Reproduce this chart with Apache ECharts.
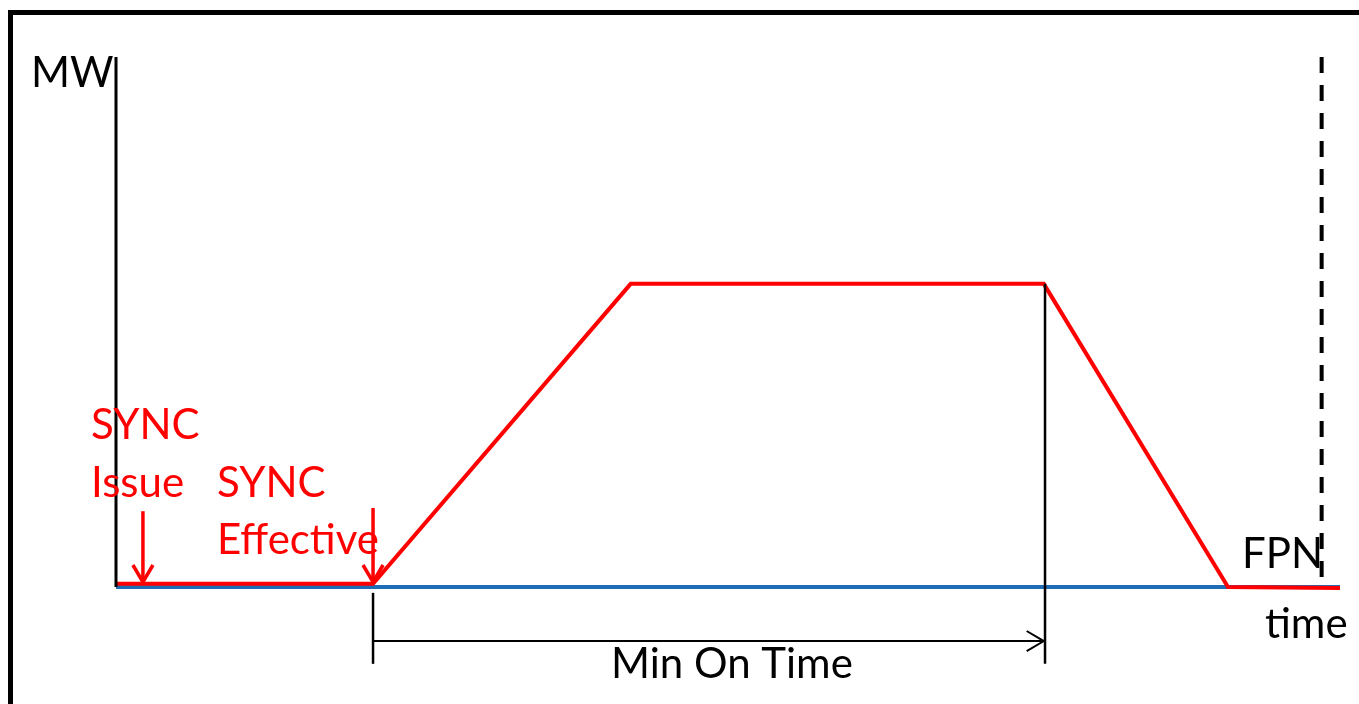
<!DOCTYPE html>
<html><head><meta charset="utf-8">
<script src="https://cdn.jsdelivr.net/npm/echarts@6/dist/echarts.min.js"></script>
<style>html,body{margin:0;padding:0;background:#fff}#c{width:1359px;height:704px}</style>
</head><body><div id="c"></div>
<script>
// ---- data (time axis 0..100, MW axis 0..100) ----
const baselineTime = [0, 100];
const baselineMW = [0, 0];
const profileTime = [0, 21, 42.05, 75.8, 90.85, 100];
const profileMW = [0.6, 0.6, 57.2, 57.2, 0, -0.2];
const syncIssueTime = 2.2;
const syncEffectiveTime = 21;
const minOnEndTime = 75.9;
const fpnLimitTime = 98.5;
const axisTopMW = 100;
const arrowTopIssue = 14.3;
const arrowTopEffective = 14.9;
const arrowTipMW = 0.95;
const bracketTopMW = -1.1;
const bracketBottomMW = -14.5;
const bracketLineMW = -10.2;
const plateauMW = 57.2;
const labels = ['MW', 'SYNC', 'Issue', 'SYNC', 'Effective', 'FPN', 'time', 'Min On Time'];

const RED = '#ff0000', BLACK = '#000000', BLUE = '#1f6db5';
function line(data, color, width, extra) {
  return Object.assign({
    type: 'line', data: data, showSymbol: false, symbol: 'none', silent: true,
    clip: false, animation: false,
    lineStyle: { color: color, width: width, cap: 'butt', join: 'miter' }
  }, extra || {});
}
function downArrow(t, top) {
  return [
    line([[t, top], [t, arrowTipMW]], RED, 3.5, { z: 5 }),
    line([[t - 0.82, arrowTipMW + 3.2], [t, arrowTipMW], [t + 0.82, arrowTipMW + 3.2]], RED, 3.5, { z: 5 })
  ];
}

const series = [
  line(baselineTime.map((t, i) => [t, baselineMW[i]]), BLUE, 4, { z: 2 }),
  line(profileTime.map((t, i) => [t, profileMW[i]]), RED, 4, { z: 3 }),
  line([[0, 0], [0, axisTopMW]], BLACK, 3, { z: 4 }),
  line([[fpnLimitTime, axisTopMW], [fpnLimitTime, 0]], BLACK, 4,
    { lineStyle: { color: BLACK, width: 4, type: [16, 12], cap: 'butt' }, z: 4 }),
  line([[minOnEndTime, plateauMW], [minOnEndTime, bracketBottomMW]], BLACK, 2.5, { z: 4 }),
  line([[syncEffectiveTime, bracketTopMW], [syncEffectiveTime, bracketBottomMW]], BLACK, 2.5, { z: 4 }),
  line([[syncEffectiveTime, bracketLineMW], [minOnEndTime - 0.1, bracketLineMW]], BLACK, 2, { z: 4 }),
  line([[minOnEndTime - 1.5, bracketLineMW + 1.9], [minOnEndTime - 0.1, bracketLineMW], [minOnEndTime - 1.5, bracketLineMW - 1.9]], BLACK, 2, { z: 4 })
].concat(downArrow(syncIssueTime, arrowTopIssue), downArrow(syncEffectiveTime, arrowTopEffective));

const FONT = '42px Lato';
function txt(s, x, y, color) {
  return { type: 'text', x: x, y: y, silent: true, z: 10,
    style: { text: s, font: FONT, fill: color, textAlign: 'left', align: 'left',
      textVerticalAlign: 'middle', verticalAlign: 'middle' } };
}

const chart = echarts.init(document.getElementById('c'), null, { renderer: 'canvas' });
chart.setOption({
  animation: false,
  backgroundColor: '#ffffff',
  grid: { left: 116, right: 19, top: 57, bottom: 11 },
  xAxis: { type: 'value', min: 0, max: 100, show: false },
  yAxis: { type: 'value', min: -20, max: 100, show: false },
  series: series,
  graphic: [
    { type: 'rect', silent: true, z: 1, shape: { x: 10.5, y: 12.5, width: 2000, height: 2000 },
      style: { fill: 'none', stroke: BLACK, lineWidth: 5 } },
    txt(labels[0], 31, 73, BLACK),
    txt(labels[1], 91, 425, RED),
    txt(labels[2], 91, 483, RED),
    txt(labels[3], 217, 483, RED),
    txt(labels[4], 217, 540, RED),
    txt(labels[5], 1242, 554, BLACK),
    txt(labels[6], 1265, 624, BLACK),
    txt(labels[7], 611, 664, BLACK)
  ]
});
</script></body></html>
